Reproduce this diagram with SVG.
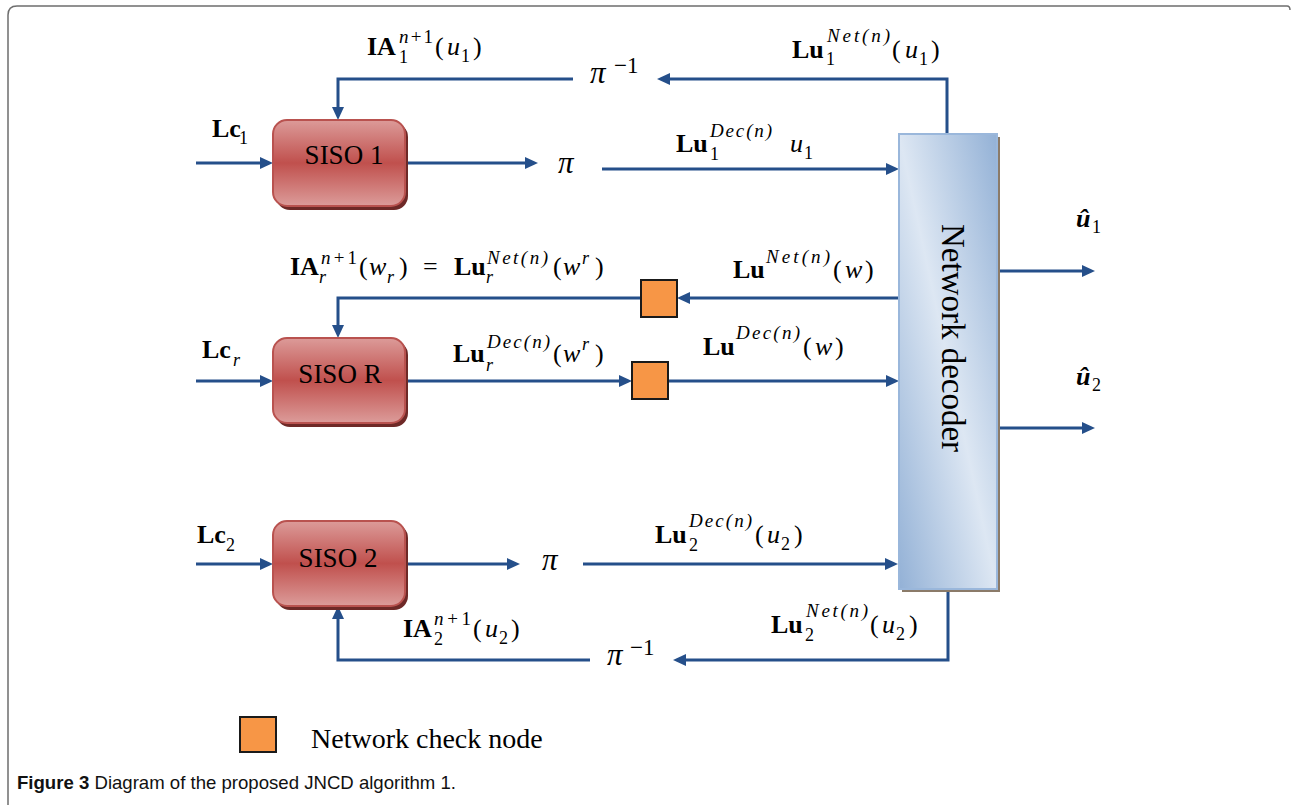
<svg xmlns="http://www.w3.org/2000/svg" width="1292" height="805" viewBox="0 0 1292 805">
<style>
.t{font-family:"Liberation Serif","Times New Roman",serif;fill:#000}
.m{font-size:26px}
.s{font-size:18px}
.sp{font-size:19px}
.b{font-weight:bold}
.i{font-style:italic}
.pi{font-family:"Liberation Serif","Times New Roman",serif;font-style:italic;font-size:31px}
.mi{font-family:"Liberation Serif","Times New Roman",serif;font-size:23px}
.con{fill:none;stroke:#254f8a;stroke-width:3}
.arr{marker-end:url(#ah)}
.siso{fill:url(#gRed);stroke:#b9524f;stroke-width:2}
.sisoSh{fill:#6e2927}
.lbl{font-family:"Liberation Serif","Times New Roman",serif;font-size:27px;fill:#000;text-anchor:middle}
.chk{fill:#f79646;stroke:#1a1a1a;stroke-width:2}
</style>
<defs>
<marker id="ah" markerUnits="userSpaceOnUse" markerWidth="14" markerHeight="14" refX="3" refY="6" orient="auto">
<path d="M0,0 L13,6 L0,12 Z" fill="#254f8a"/>
</marker>
<linearGradient id="gRed" x1="0" y1="0" x2="0" y2="1">
<stop offset="0" stop-color="#dc9b99"/>
<stop offset="0.5" stop-color="#c0504d"/>
<stop offset="1" stop-color="#dc9c9a"/>
</linearGradient>
<linearGradient id="gBlue" x1="1" y1="0" x2="0" y2="1">
<stop offset="0" stop-color="#93b1d6"/>
<stop offset="0.5" stop-color="#dde7f3"/>
<stop offset="1" stop-color="#93b1d6"/>
</linearGradient>
</defs>
<rect width="1292" height="805" fill="#fff"/>
<path d="M8,805 L8,15 Q8,6 17,6 L1287,6 Q1290,6 1290,10" fill="none" stroke="#6e6e6e" stroke-width="1.5"/>

<g id="connectors">
<path class="con arr" d="M196,163 H263"/>
<path class="con arr" d="M405,163 H528"/>
<path class="con arr" d="M602,169 H889"/>
<path class="con arr" d="M947,134 V79 H667"/>
<path class="con arr" d="M573,79 H338 V110"/>
<path class="con arr" d="M196,381 H263"/>
<path class="con arr" d="M405,381 H622"/>
<path class="con arr" d="M668,381 H889"/>
<path class="con arr" d="M899,298 H687"/>
<path class="con arr" d="M641,298 H338 V328"/>
<path class="con arr" d="M196,564 H263"/>
<path class="con arr" d="M405,564 H510"/>
<path class="con arr" d="M583,564 H888"/>
<path class="con arr" d="M948,589 V660 H683"/>
<path class="con arr" d="M590,660 H338 V616"/>
<path class="con arr" d="M997,271 H1085"/>
<path class="con arr" d="M997,428 H1085"/>
</g>

<g id="siso1">
<rect class="sisoSh" x="276" y="123" width="132" height="87" rx="14"/>
<rect class="siso" x="273" y="120" width="132" height="86" rx="14"/>
<text class="lbl" x="344" y="164">SISO 1</text>
</g>
<g id="sisoR">
<rect class="sisoSh" x="276" y="341" width="132" height="86" rx="14"/>
<rect class="siso" x="273" y="338" width="132" height="85" rx="14"/>
<text class="lbl" x="340" y="383">SISO R</text>
</g>
<g id="siso2">
<rect class="sisoSh" x="276" y="524" width="132" height="86" rx="14"/>
<rect class="siso" x="273" y="521" width="132" height="85" rx="14"/>
<text class="lbl" x="338" y="567">SISO 2</text>
</g>

<g id="decoder">
<rect x="902" y="137" width="98" height="455" fill="#8b7b69"/>
<rect x="899" y="134" width="98" height="455" fill="url(#gBlue)" stroke="#9ab7db" stroke-width="2"/>
<text class="t" x="0" y="0" font-size="33" text-anchor="middle" transform="translate(942,338) rotate(90)">Network decoder</text>
</g>

<g id="check-upper"><rect class="chk" x="641" y="280" width="36" height="37"/></g>
<g id="check-lower"><rect class="chk" x="632" y="362" width="36" height="37"/></g>

<g id="pi-top"><text class="pi" x="558" y="173">π</text></g>
<g id="piinv-top"><text class="pi" x="590" y="83">π</text><text class="mi" x="614" y="73">−1</text></g>
<g id="pi-bottom"><text class="pi" x="542" y="570">π</text></g>
<g id="piinv-bottom"><text class="pi" x="607" y="665">π</text><text class="mi" x="630" y="655">−1</text></g>

<g id="lab-lc1"><text class="t m b" x="212" y="137">Lc</text><text class="t s" x="239" y="144">1</text></g>
<g id="lab-lcr"><text class="t m b" x="202" y="358">Lc</text><text class="t s i" x="233" y="366">r</text></g>
<g id="lab-lc2"><text class="t m b" x="197" y="543">Lc</text><text class="t s" x="226" y="551">2</text></g>

<g id="lab-ia1">
<text class="t m b" x="367" y="55">IA</text>
<text class="t s" x="399" y="63">1</text>
<text class="t sp" x="399" y="43" textLength="34"><tspan class="i">n</tspan>+1</text>
<text class="t m" x="435" y="55">(</text><text class="t m i" x="447" y="55">u</text>
<text class="t s" x="461" y="62">1</text><text class="t m" x="473" y="55">)</text>
</g>

<g id="lab-lu1net">
<text class="t m b" x="792" y="58">Lu</text>
<text class="t s" x="826" y="65">1</text>
<text class="t sp i" x="827" y="42" textLength="63">Net(n)</text>
<text class="t m" x="892" y="58">(</text><text class="t m i" x="905" y="58">u</text>
<text class="t s" x="919" y="65">1</text><text class="t m" x="931" y="58">)</text>
</g>

<g id="lab-lu1dec">
<text class="t m b" x="676" y="152">Lu</text>
<text class="t s" x="710" y="160">1</text>
<text class="t sp i" x="710" y="137" textLength="62">Dec(n)</text>
<text class="t m i" x="790" y="152">u</text><text class="t s" x="804" y="159">1</text>
</g>

<g id="lab-iar">
<text class="t m b" x="290" y="275">IA</text>
<text class="t s i" x="319" y="283">r</text>
<text class="t sp" x="321" y="264" textLength="36"><tspan class="i">n</tspan>+1</text>
<text class="t m" x="359" y="275">(</text><text class="t m i" x="369" y="275">w</text>
<text class="t s i" x="387" y="283">r</text><text class="t m" x="399" y="275">)</text>
<text class="t m" x="423" y="275">=</text>
<text class="t m b" x="454" y="275">Lu</text>
<text class="t s i" x="486" y="283">r</text>
<text class="t sp i" x="487" y="264" textLength="61">Net(n)</text>
<text class="t m" x="553" y="275">(</text><text class="t m i" x="563" y="275">w</text>
<text class="t s i" x="582" y="264">r</text><text class="t m" x="595" y="275">)</text>
</g>

<g id="lab-lurdec">
<text class="t m b" x="453" y="362">Lu</text>
<text class="t s i" x="486" y="371">r</text>
<text class="t sp i" x="487" y="348" textLength="63">Dec(n)</text>
<text class="t m" x="553" y="362">(</text><text class="t m i" x="563" y="362">w</text>
<text class="t s i" x="582" y="350">r</text><text class="t m" x="595" y="362">)</text>
</g>

<g id="lab-lunet">
<text class="t m b" x="733" y="278">Lu</text>
<text class="t sp i" x="766" y="263" textLength="64">Net(n)</text>
<text class="t m" x="833" y="278">(</text><text class="t m i" x="845" y="278">w</text><text class="t m" x="865" y="278">)</text>
</g>

<g id="lab-ludec">
<text class="t m b" x="703" y="355">Lu</text>
<text class="t sp i" x="736" y="339" textLength="64">Dec(n)</text>
<text class="t m" x="803" y="355">(</text><text class="t m i" x="815" y="355">w</text><text class="t m" x="835" y="355">)</text>
</g>

<g id="lab-uhat1"><text class="t m b i" x="1076" y="227">û</text><text class="t s" x="1092" y="233">1</text></g>
<g id="lab-uhat2"><text class="t m b i" x="1076" y="385">û</text><text class="t s" x="1092" y="391">2</text></g>

<g id="lab-ia2">
<text class="t m b" x="403" y="637">IA</text>
<text class="t s" x="434" y="645">2</text>
<text class="t sp" x="434" y="625" textLength="37"><tspan class="i">n</tspan>+1</text>
<text class="t m" x="473" y="637">(</text><text class="t m i" x="485" y="637">u</text>
<text class="t s" x="499" y="644">2</text><text class="t m" x="511" y="637">)</text>
</g>

<g id="lab-lu2dec">
<text class="t m b" x="655" y="543">Lu</text>
<text class="t s" x="689" y="551">2</text>
<text class="t sp i" x="689" y="527" textLength="63">Dec(n)</text>
<text class="t m" x="755" y="543">(</text><text class="t m i" x="767" y="543">u</text>
<text class="t s" x="781" y="550">2</text><text class="t m" x="794" y="543">)</text>
</g>

<g id="lab-lu2net">
<text class="t m b" x="771" y="633">Lu</text>
<text class="t s" x="805" y="641">2</text>
<text class="t sp i" x="806" y="617" textLength="62">Net(n)</text>
<text class="t m" x="870" y="633">(</text><text class="t m i" x="882" y="633">u</text>
<text class="t s" x="896" y="640">2</text><text class="t m" x="909" y="633">)</text>
</g>

<g id="legend">
<rect class="chk" x="240" y="717" width="36" height="35"/>
<text class="t" x="311" y="748" font-size="28">Network check node</text>
</g>

<text x="17" y="789" font-family="'Liberation Sans','Open Sans',sans-serif" font-size="18.5" textLength="439" lengthAdjust="spacingAndGlyphs" fill="#111"><tspan font-weight="bold">Figure 3</tspan> Diagram of the proposed JNCD algorithm 1.</text>
</svg>
